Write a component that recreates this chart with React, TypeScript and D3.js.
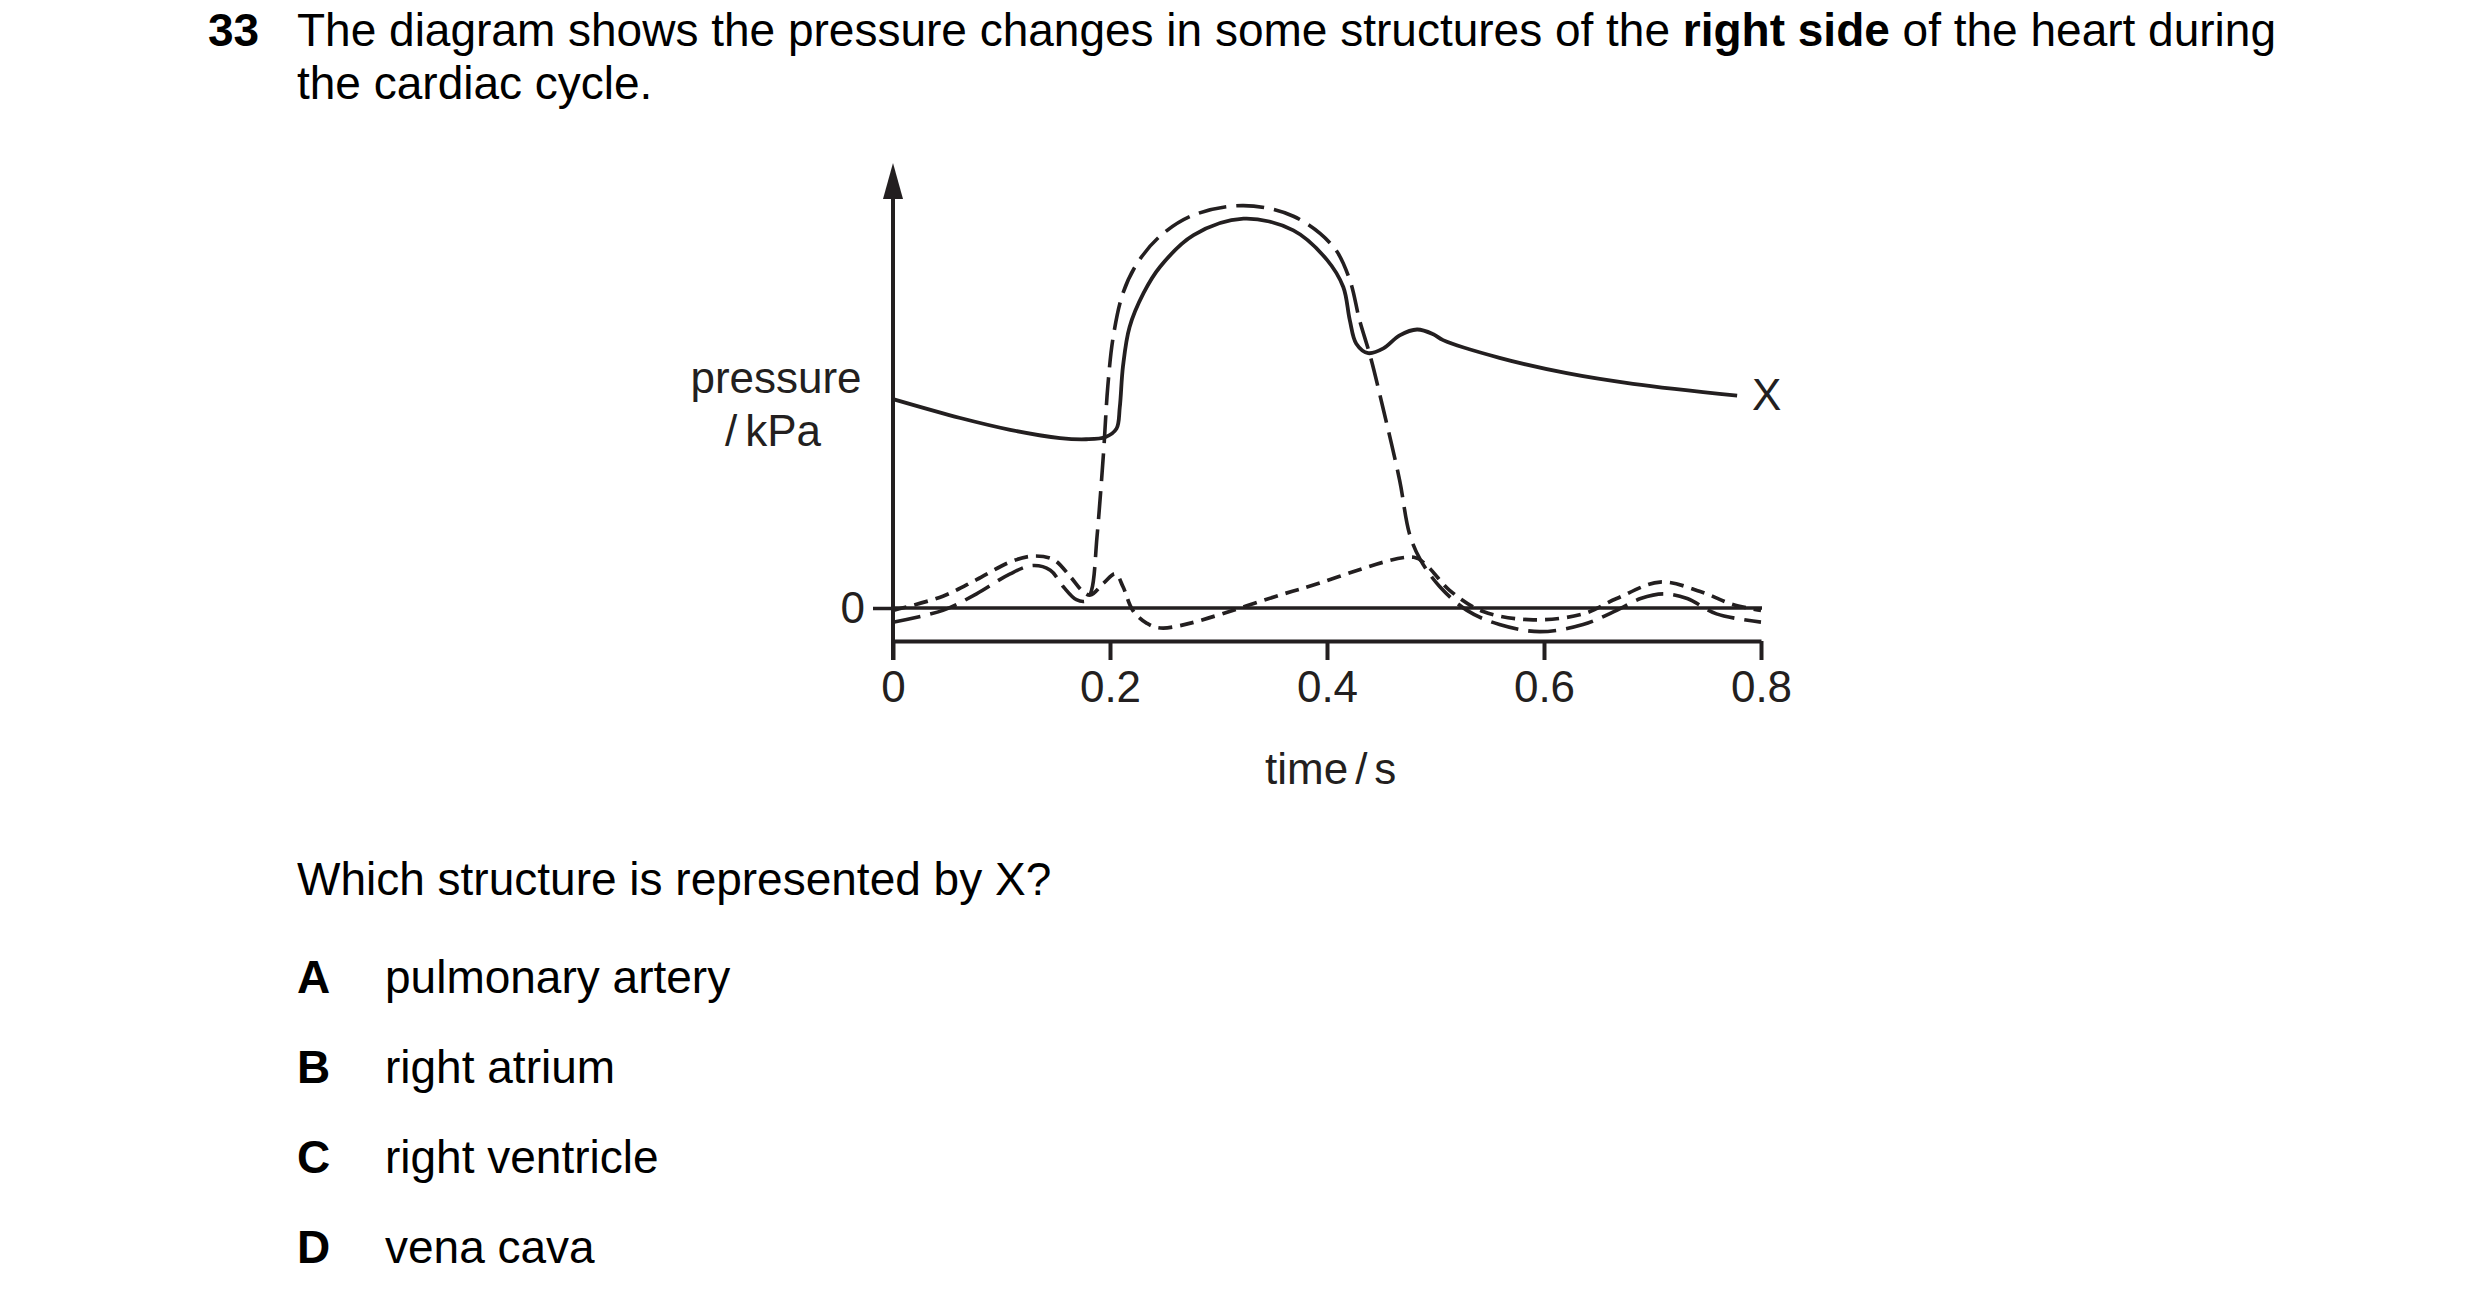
import { useEffect, useRef } from 'react'
import * as d3 from 'd3'

// time in s, pressure in kPa
const timeTicks = [0, 0.2, 0.4, 0.6, 0.8]
const pressureTicks = [0]

// solid line, labelled X
const arteryPoints: [number, number][] = [
  [0, 1.77], [0.062, 1.61], [0.108, 1.51], [0.154, 1.44], [0.178, 1.43],
  [0.196, 1.45], [0.206, 1.52], [0.209, 1.7], [0.212, 2.05], [0.218, 2.38],
  [0.231, 2.67], [0.246, 2.89], [0.277, 3.16], [0.323, 3.3], [0.369, 3.2],
  [0.4, 2.95], [0.415, 2.72], [0.421, 2.44], [0.427, 2.24], [0.438, 2.16],
  [0.452, 2.2], [0.467, 2.31], [0.483, 2.36], [0.498, 2.32], [0.507, 2.27],
  [0.559, 2.12], [0.621, 1.99], [0.682, 1.9], [0.778, 1.8],
]

// long dashes
const ventriclePoints: [number, number][] = [
  [0, -0.12], [0.046, -0.02], [0.077, 0.12], [0.108, 0.29], [0.129, 0.36],
  [0.145, 0.32], [0.157, 0.18], [0.169, 0.07], [0.178, 0.06], [0.183, 0.15],
  [0.188, 0.6], [0.194, 1.31], [0.198, 1.88], [0.203, 2.3], [0.212, 2.67],
  [0.225, 2.92], [0.246, 3.15], [0.277, 3.33], [0.323, 3.41], [0.369, 3.32],
  [0.406, 3.06], [0.421, 2.78], [0.43, 2.44], [0.44, 2.13], [0.452, 1.68],
  [0.467, 1.08], [0.476, 0.63], [0.486, 0.41], [0.504, 0.18], [0.529, -0.02],
  [0.559, -0.14], [0.596, -0.2], [0.636, -0.14], [0.667, -0.02], [0.689, 0.08],
  [0.71, 0.12], [0.732, 0.08], [0.759, -0.05], [0.8, -0.12],
]

// short dashes
const atriumPoints: [number, number][] = [
  [0, -0.02], [0.046, 0.1], [0.077, 0.24], [0.108, 0.39], [0.129, 0.44],
  [0.148, 0.41], [0.163, 0.27], [0.175, 0.14], [0.182, 0.11], [0.194, 0.21],
  [0.205, 0.29], [0.212, 0.18], [0.221, -0.02], [0.234, -0.13], [0.249, -0.17],
  [0.375, 0.16], [0.48, 0.43], [0.492, 0.36], [0.513, 0.15], [0.544, -0.03],
  [0.59, -0.1], [0.636, -0.05], [0.667, 0.08], [0.707, 0.22], [0.744, 0.14],
  [0.774, 0.03], [0.8, -0.02],
]

const optionLetters = ['A', 'B', 'C', 'D']
const optionTexts = ['pulmonary artery', 'right atrium', 'right ventricle', 'vena cava']

const font = '"Liberation Sans", Arial, Helvetica, sans-serif'
const ink = '#231f20'

export default function App() {
  const ref = useRef<SVGGElement | null>(null)

  useEffect(() => {
    if (!ref.current) return
    const g = d3.select(ref.current)
    g.selectAll('*').remove()

    const x = d3.scaleLinear().domain([0, 0.8]).range([893, 1761])
    const y = d3.scaleLinear().domain([0, 3.5]).range([608, 195])
    const axisY = 641

    // y axis with arrow
    g.append('line')
      .attr('x1', x(0)).attr('x2', x(0))
      .attr('y1', 196).attr('y2', axisY + 19)
      .attr('stroke', ink).attr('stroke-width', 4)
    g.append('path')
      .attr('d', `M${x(0)},163L${x(0) - 10},199L${x(0) + 10},199Z`)
      .attr('fill', ink)

    // time axis
    const xAxis = g.append('g')
      .attr('transform', `translate(0,${axisY})`)
      .call(d3.axisBottom(x).tickValues(timeTicks).tickSize(19).tickSizeOuter(0).tickPadding(11)
        .tickFormat((d) => String(+d)))
    xAxis.select('.domain').attr('stroke', ink).attr('stroke-width', 4)
    xAxis.selectAll('.tick line').attr('stroke', ink).attr('stroke-width', 4)
    xAxis.selectAll('.tick text').attr('fill', ink).attr('font-size', 44).attr('font-family', font)

    // zero line and label
    const yAxis = g.append('g')
      .attr('transform', `translate(${x(0)},0)`)
      .call(d3.axisLeft(y).tickValues(pressureTicks).tickSize(20).tickPadding(8)
        .tickFormat((d) => String(+d)))
    yAxis.select('.domain').remove()
    yAxis.selectAll('.tick line').attr('stroke', ink).attr('stroke-width', 3.5)
    yAxis.selectAll('.tick text').attr('fill', ink).attr('font-size', 44).attr('font-family', font)
    g.append('line')
      .attr('x1', x(0)).attr('x2', x(0.8) + 1)
      .attr('y1', y(0)).attr('y2', y(0))
      .attr('stroke', ink).attr('stroke-width', 3.5)

    const line = d3.line<[number, number]>()
      .x((d) => x(d[0]))
      .y((d) => y(d[1]))
      .curve(d3.curveCatmullRom.alpha(0.5))

    g.append('path').attr('d', line(atriumPoints))
      .attr('fill', 'none').attr('stroke', ink).attr('stroke-width', 3.7)
      .attr('stroke-dasharray', '14,8')
    g.append('path').attr('d', line(ventriclePoints))
      .attr('fill', 'none').attr('stroke', ink).attr('stroke-width', 3.6)
      .attr('stroke-dasharray', '28,10')
    g.append('path').attr('d', line(arteryPoints))
      .attr('fill', 'none').attr('stroke', ink).attr('stroke-width', 3.8)
  }, [])

  return (
    <svg width={2480} height={1304} style={{ position: 'absolute', left: 0, top: 0, background: '#fff' }}
      fontFamily={font}>
      <text x={208} y={46} fontSize={46} fontWeight="bold">33</text>
      <text x={297} y={46} fontSize={46}>
        The diagram shows the pressure changes in some structures of the{' '}
        <tspan fontWeight="bold">right side</tspan> of the heart during
      </text>
      <text x={297} y={99} fontSize={46}>the cardiac cycle.</text>

      <g ref={ref} />

      <text x={776} y={393} fontSize={44} fill={ink} textAnchor="middle">pressure</text>
      <text x={773} y={446} fontSize={44} fill={ink} textAnchor="middle">
        /<tspan dx={8}>kPa</tspan>
      </text>
      <text x={1265} y={784} fontSize={44} fill={ink}>
        time<tspan dx={7}>/</tspan><tspan dx={7}>s</tspan>
      </text>
      <text x={1752} y={410} fontSize={44} fill={ink}>X</text>

      <text x={297} y={895} fontSize={46}>Which structure is represented by X?</text>
      {optionLetters.map((l, i) => (
        <g key={l}>
          <text x={297} y={993 + i * 90} fontSize={46} fontWeight="bold">{l}</text>
          <text x={385} y={993 + i * 90} fontSize={46}>{optionTexts[i]}</text>
        </g>
      ))}
    </svg>
  )
}
